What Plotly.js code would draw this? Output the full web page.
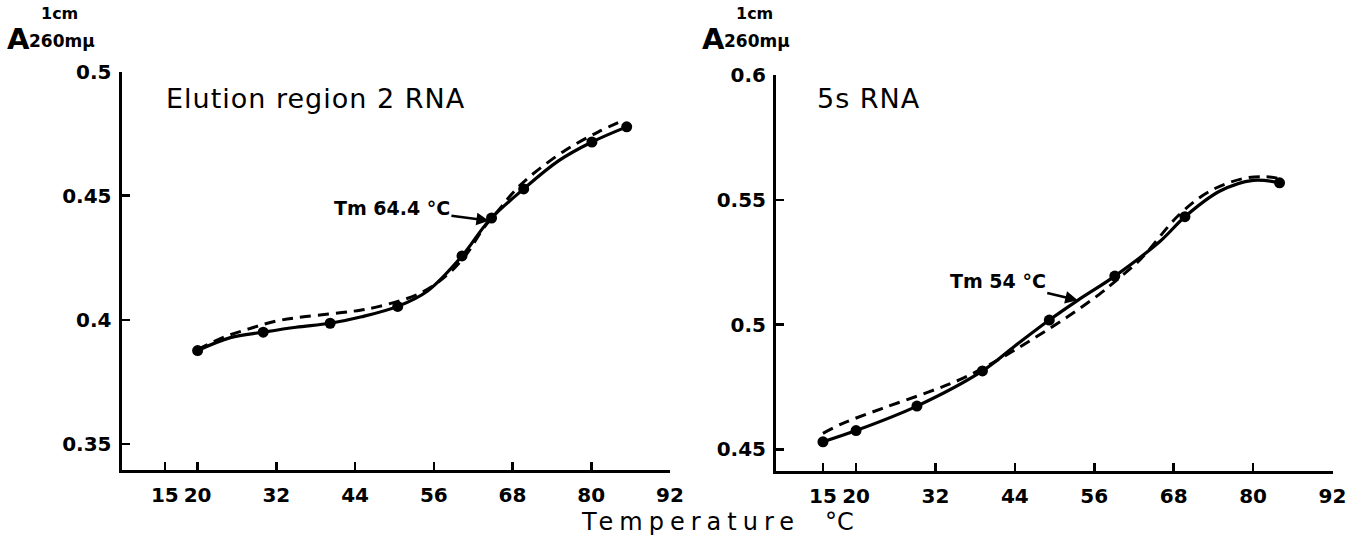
<!DOCTYPE html>
<html>
<head>
<meta charset="utf-8">
<script src="https://cdn.plot.ly/plotly-3.0.1.min.js"></script>
<style>html,body{margin:0;padding:0;background:#fff;}#chart{width:1351px;height:547px;}</style>
</head>
<body>
<div id="chart"></div>
<script>
// ---- Data ----
// Left panel: Elution region 2 RNA
const leftDotsT   = [20, 30, 40.2, 50.5, 60.3, 64.8, 69.7, 80.1, 85.4];
const leftDotsA   = [0.3876, 0.3950, 0.3986, 0.4054, 0.4257, 0.4410, 0.4527, 0.4716, 0.4777];
const leftSolidT  = [20, 25, 30, 35, 40.2, 45, 50.5, 55, 60.3, 64.4, 69.7, 75, 80.1, 85.4];
const leftSolidA  = [0.3876, 0.3928, 0.3950, 0.3970, 0.3986, 0.4012, 0.4054, 0.4115, 0.4257, 0.4399, 0.4527, 0.4640, 0.4716, 0.4777];
const leftDashT   = [20, 24, 28, 32, 36.5, 43.6, 47.7, 54, 58, 61, 63.6, 66, 68, 70.5, 76, 81.1, 85];
const leftDashA   = [0.3880, 0.3930, 0.3965, 0.3995, 0.4013, 0.4034, 0.4054, 0.4108, 0.4180, 0.4265, 0.4370, 0.4445, 0.4510, 0.4574, 0.4682, 0.4757, 0.4805];

// Right panel: 5s RNA
const rightDotsT  = [15, 20, 29.2, 39.1, 49.2, 59.1, 69.7, 84];
const rightDotsA  = [0.4530, 0.4575, 0.4673, 0.4814, 0.5018, 0.5194, 0.5432, 0.5568];
const rightSolidT = [15, 20, 29.2, 39.1, 44, 49.2, 53.5, 59.1, 66, 69.7, 75, 80, 84];
const rightSolidA = [0.4530, 0.4575, 0.4673, 0.4814, 0.4914, 0.5018, 0.5097, 0.5194, 0.5335, 0.5432, 0.5535, 0.5578, 0.5568];
const rightDashT  = [15, 18, 24, 31.1, 36.1, 41.7, 46.7, 51.8, 56.8, 59.3, 63, 68.9, 73.5, 78.5, 82, 84];
const rightDashA  = [0.4564, 0.4604, 0.4664, 0.4731, 0.4784, 0.4862, 0.4942, 0.5028, 0.5122, 0.5176, 0.5262, 0.5442, 0.5535, 0.5585, 0.5592, 0.5585];

// Tick values / labels
const xTickVals   = [15, 20, 32, 44, 56, 68, 80, 92];
const xTickText   = ['15', '20', '32', '44', '56', '68', '80', '92'];
const leftYVals   = [0.35, 0.4, 0.45, 0.5];
const leftYText   = ['0.35', '0.4', '0.45', '0.5'];
const rightYVals  = [0.45, 0.5, 0.55, 0.6];
const rightYText  = ['0.45', '0.5', '0.55', '0.6'];

// Melting temperatures (annotation targets)
const leftTm = 64.4, leftTmA = 0.4399;
const rightTm = 53.5, rightTmA = 0.5097;

// ---- Layout helpers ----
const W = 1351, H = 547;
const px = x => x / W;
const py = y => 1 - y / H;

const lineSolid = {color: '#000', width: 3.2, shape: 'spline', smoothing: 1};
const lineDash  = {color: '#000', width: 3, dash: '11px,7px', shape: 'spline', smoothing: 1};
const dotMarker = {color: '#000', size: 11, symbol: 'circle'};

const traces = [
  {x: leftDashT, y: leftDashA, xaxis: 'x', yaxis: 'y', mode: 'lines', line: lineDash, hoverinfo: 'skip'},
  {x: leftSolidT, y: leftSolidA, xaxis: 'x', yaxis: 'y', mode: 'lines', line: lineSolid, hoverinfo: 'skip'},
  {x: leftDotsT, y: leftDotsA, xaxis: 'x', yaxis: 'y', mode: 'markers', marker: dotMarker},
  {x: rightDashT, y: rightDashA, xaxis: 'x2', yaxis: 'y2', mode: 'lines', line: lineDash, hoverinfo: 'skip'},
  {x: rightSolidT, y: rightSolidA, xaxis: 'x2', yaxis: 'y2', mode: 'lines', line: lineSolid, hoverinfo: 'skip'},
  {x: rightDotsT, y: rightDotsA, xaxis: 'x2', yaxis: 'y2', mode: 'markers', marker: dotMarker}
];

const tickFont = {family: 'DejaVu Sans', size: 20, color: '#000', weight: 'bold'};
const axBase = {
  showgrid: false, zeroline: false, showline: true, linecolor: '#000', linewidth: 3,
  ticks: 'inside', ticklen: 8, tickwidth: 2.5, tickcolor: '#000',
  tickfont: tickFont, automargin: false, fixedrange: true
};

const annFont = {family: 'DejaVu Sans', color: '#000'};
function aLabel(xA, x1, x260) {
  return [
    {xref: 'paper', yref: 'paper', x: px(xA), y: py(39), xanchor: 'left', yanchor: 'middle', showarrow: false,
     text: 'A', font: Object.assign({size: 29, weight: 'bold'}, annFont)},
    {xref: 'paper', yref: 'paper', x: px(x1), y: py(13), xanchor: 'left', yanchor: 'middle', showarrow: false,
     text: '1cm', font: Object.assign({size: 16, weight: 'bold'}, annFont)},
    {xref: 'paper', yref: 'paper', x: px(x260), y: py(41), xanchor: 'left', yanchor: 'middle', showarrow: false,
     text: '260mμ', font: Object.assign({size: 17, weight: 'bold'}, annFont)}
  ];
}

const annotations = [].concat(
  aLabel(5, 39, 27),
  aLabel(700, 734, 722),
  [
    {xref: 'paper', yref: 'paper', x: px(164), y: py(99), xanchor: 'left', yanchor: 'middle', showarrow: false,
     text: '<span style="letter-spacing:1px">Elution region 2 RNA</span>', font: Object.assign({size: 27}, annFont)},
    {xref: 'paper', yref: 'paper', x: px(815), y: py(99), xanchor: 'left', yanchor: 'middle', showarrow: false,
     text: '<span style="letter-spacing:1px">5s RNA</span>', font: Object.assign({size: 27}, annFont)},
    {xref: 'x', yref: 'y', x: leftTm, y: leftTmA, ax: -97, ay: -13, showarrow: true,
     arrowhead: 2, arrowsize: 1, arrowwidth: 2.5, arrowcolor: '#000', standoff: 0,
     text: 'Tm 64.4 °C', font: Object.assign({size: 19, weight: 'bold'}, annFont)},
    {xref: 'x2', yref: 'y2', x: rightTm, y: rightTmA, ax: -80, ay: -19, showarrow: true,
     arrowhead: 2, arrowsize: 1, arrowwidth: 2.5, arrowcolor: '#000', standoff: 0,
     text: 'Tm 54 °C', font: Object.assign({size: 19, weight: 'bold'}, annFont)},
    {xref: 'paper', yref: 'paper', x: px(579), y: py(522), xanchor: 'left', yanchor: 'middle', showarrow: false,
     text: '<span style="letter-spacing:6px">Temperature</span>', font: Object.assign({size: 24}, annFont)},
    {xref: 'paper', yref: 'paper', x: px(823), y: py(522), xanchor: 'left', yanchor: 'middle', showarrow: false,
     text: '°C', font: Object.assign({size: 24}, annFont)}
  ]
);

const layout = {
  width: W, height: H,
  margin: {l: 0, r: 0, t: 0, b: 0, pad: 0},
  paper_bgcolor: '#fff', plot_bgcolor: '#fff',
  showlegend: false,
  xaxis: Object.assign({}, axBase, {domain: [px(121.5), px(670)], range: [8.4, 92], anchor: 'y',
    tickvals: xTickVals, ticktext: xTickText, ticklabelstandoff: 5}),
  yaxis: Object.assign({}, axBase, {domain: [py(470), py(71.5)], range: [0.3395, 0.5], anchor: 'x',
    tickvals: leftYVals, ticktext: leftYText, ticklabelstandoff: 3}),
  xaxis2: Object.assign({}, axBase, {domain: [px(776), px(1332.5)], range: [7.9, 92], anchor: 'y2',
    tickvals: xTickVals, ticktext: xTickText, ticklabelstandoff: 5}),
  yaxis2: Object.assign({}, axBase, {domain: [py(471), py(75)], range: [0.4413, 0.6], anchor: 'x2',
    tickvals: rightYVals, ticktext: rightYText, ticklabelstandoff: 3}),
  annotations: annotations
};

Plotly.newPlot('chart', traces, layout, {displayModeBar: false, staticPlot: true});
</script>
</body>
</html>
